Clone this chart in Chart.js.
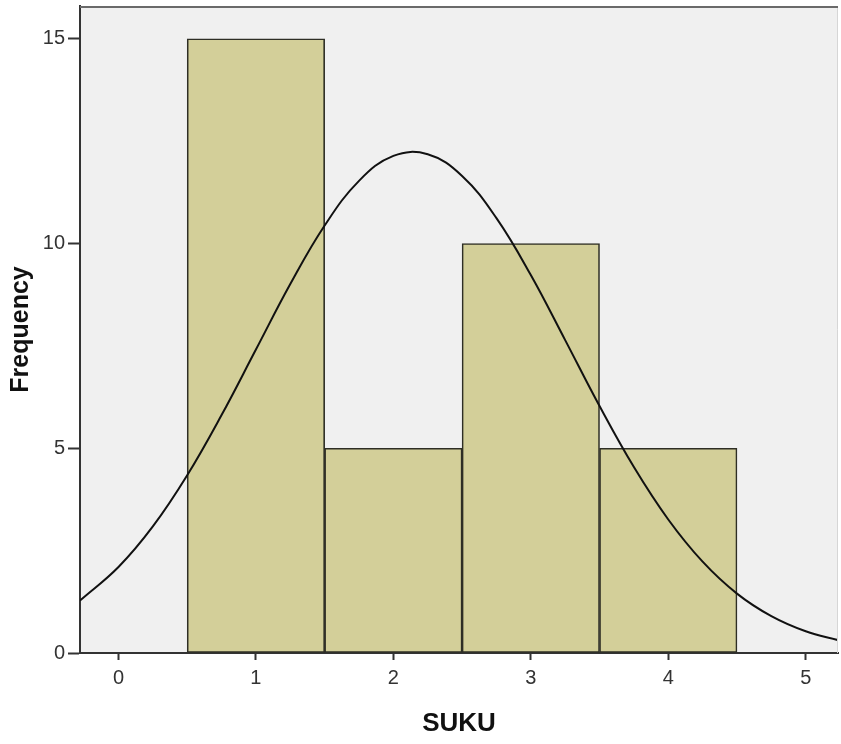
<!DOCTYPE html>
<html>
<head>
<meta charset="utf-8">
<title>SUKU histogram</title>
<script src="https://cdn.jsdelivr.net/npm/chart.js@4/dist/chart.umd.min.js"></script>
<style>
  html, body { margin: 0; padding: 0; background: #fff; }
  #wrap { width: 841px; height: 744px; }
</style>
</head>
<body>
<div id="wrap"><canvas id="hist" width="841" height="744"></canvas></div>
<script>
// bins of SUKU (centre of each bar) and their counts
const binCenters = [1, 2, 3, 4];
const frequencies = [15, 5, 10, 5];

// normal curve
const curveX = [-0.28, 0, 0.25, 0.5, 0.75, 1, 1.25, 1.5, 1.75, 2, 2.25, 2.5, 2.75, 3, 3.25, 3.5, 3.75, 4, 4.25, 4.5, 4.75, 5, 5.24];
const curveY = [1.28, 2.10, 3.09, 4.34, 5.81, 7.41, 9.01, 10.44, 11.53, 12.14, 12.18, 11.65, 10.62, 9.23, 7.64, 6.03, 4.54, 3.26, 2.23, 1.45, 0.90, 0.53, 0.31];

const xTicks = [0, 1, 2, 3, 4, 5];
const yTicks = [0, 5, 10, 15];

const FONT = "Arial, 'Liberation Sans', sans-serif";

// grey plot background + top/right frame
const plotFrame = {
  id: 'plotFrame',
  beforeDraw(chart) {
    const { ctx, chartArea: a } = chart;
    ctx.save();
    ctx.fillStyle = '#f0f0f0';
    ctx.fillRect(a.left, a.top, a.right - a.left, a.bottom - a.top);
    ctx.restore();
  },
  afterDraw(chart) {
    const { ctx, chartArea: a } = chart;
    ctx.save();
    ctx.strokeStyle = '#d6d6d6';
    ctx.lineWidth = 1;
    ctx.beginPath();
    ctx.moveTo(a.right - 0.5, a.top);
    ctx.lineTo(a.right - 0.5, a.bottom);
    ctx.stroke();
    ctx.strokeStyle = '#6a6a6a';
    ctx.lineWidth = 2;
    ctx.beginPath();
    ctx.moveTo(a.left, a.top + 1);
    ctx.lineTo(a.right, a.top + 1);
    ctx.stroke();
    ctx.restore();
  }
};

new Chart(document.getElementById('hist'), {
  type: 'bar',
  data: {
    datasets: [
      {
        type: 'line',
        data: curveX.map((x, i) => ({ x: x, y: curveY[i] })),
        borderColor: '#111',
        borderWidth: 2,
        pointRadius: 0,
        tension: 0.4,
        fill: false,
        order: 0
      },
      {
        type: 'bar',
        data: binCenters.map((x, i) => ({ x: x, y: frequencies[i] })),
        backgroundColor: '#d3cf99',
        borderColor: '#2e2e25',
        borderWidth: 1.6,
        borderSkipped: false,
        barPercentage: 1,
        categoryPercentage: 1,
        order: 1
      }
    ]
  },
  plugins: [plotFrame],
  options: {
    responsive: false,
    animation: false,
    layout: { padding: { top: 6, right: 3, left: 0, bottom: 0 } },
    plugins: {
      legend: { display: false },
      tooltip: { enabled: false }
    },
    scales: {
      x: {
        type: 'linear',
        offset: false,
        min: -0.28,
        max: 5.235,
        afterFit: (s) => { s.height = 91; s.paddingLeft = 0; s.paddingRight = 0; },
        afterBuildTicks: (s) => { s.ticks = xTicks.map(v => ({ value: v })); },
        ticks: {
          color: '#333',
          padding: 6,
          maxRotation: 0,
          font: { family: FONT, size: 20 }
        },
        grid: { offset: false, drawOnChartArea: false, drawTicks: true, tickLength: 7, tickWidth: 2, tickColor: '#333' },
        border: { display: true, color: '#333', width: 2 },
        title: {
          display: true,
          text: 'SUKU',
          color: '#111',
          padding: { top: 0, bottom: 5 },
          font: { family: FONT, size: 26, weight: 'bold' }
        }
      },
      y: {
        min: 0,
        max: 15.8,
        afterFit: (s) => { s.width = 80; s.paddingTop = 0; s.paddingBottom = 0; },
        afterBuildTicks: (s) => { s.ticks = yTicks.map(v => ({ value: v })); },
        ticks: {
          color: '#333',
          padding: 3,
          font: { family: FONT, size: 20 }
        },
        grid: { drawOnChartArea: false, drawTicks: true, tickLength: 12, tickWidth: 2, tickColor: '#333' },
        border: { display: true, color: '#333', width: 2 },
        title: {
          display: true,
          text: 'Frequency',
          color: '#111',
          padding: { top: 6, bottom: 0 },
          font: { family: FONT, size: 25, weight: 'bold' }
        }
      }
    }
  }
});
</script>
</body>
</html>
